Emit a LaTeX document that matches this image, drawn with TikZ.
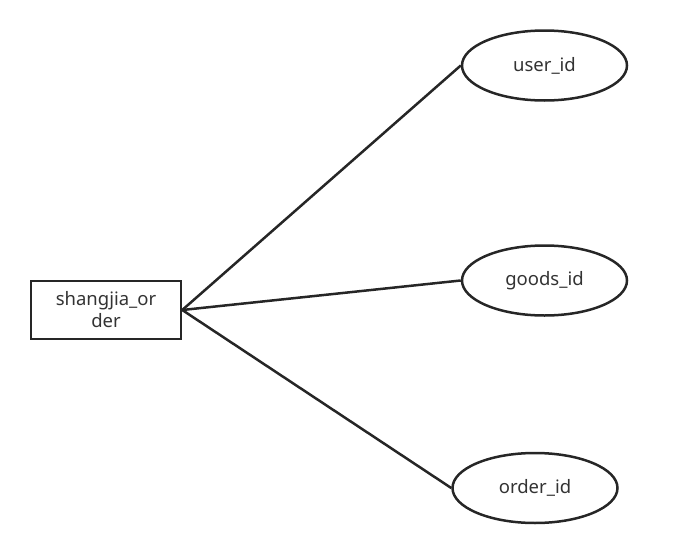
\documentclass[tikz,border=0pt]{standalone}
\usepackage{fontspec}
\setmainfont{Noto Sans}
\usetikzlibrary{shapes.geometric}

\begin{document}
\begin{tikzpicture}[x=1pt, y=-1pt, line width=2.5pt,
    entity/.style={rectangle, draw=black!85, minimum width=150pt, minimum height=58pt,
        align=center, text=black!80, font=\fontsize{18.5}{22}\selectfont, inner sep=0pt},
    attr/.style={ellipse, draw=black!85, minimum width=165pt, minimum height=70pt,
        text=black!80, font=\fontsize{18.5}{22}\selectfont, inner sep=0pt}]

    \useasboundingbox (0,0) rectangle (681,549);

    \node[entity] (order) at (106,310) {shangjia\_or\\der};
    \node[attr] (user) at (544.5,65.5) {user\_id};
    \node[attr] (goods) at (544.5,280.5) {goods\_id};
    \node[attr] (oid) at (535,488) {order\_id};

    % Attribute links
    \draw[black!85] (order.east) -- (user.west);
    \draw[black!85] (order.east) -- (goods.west);
    \draw[black!85] (order.east) -- (oid.west);

\end{tikzpicture}
\end{document}
